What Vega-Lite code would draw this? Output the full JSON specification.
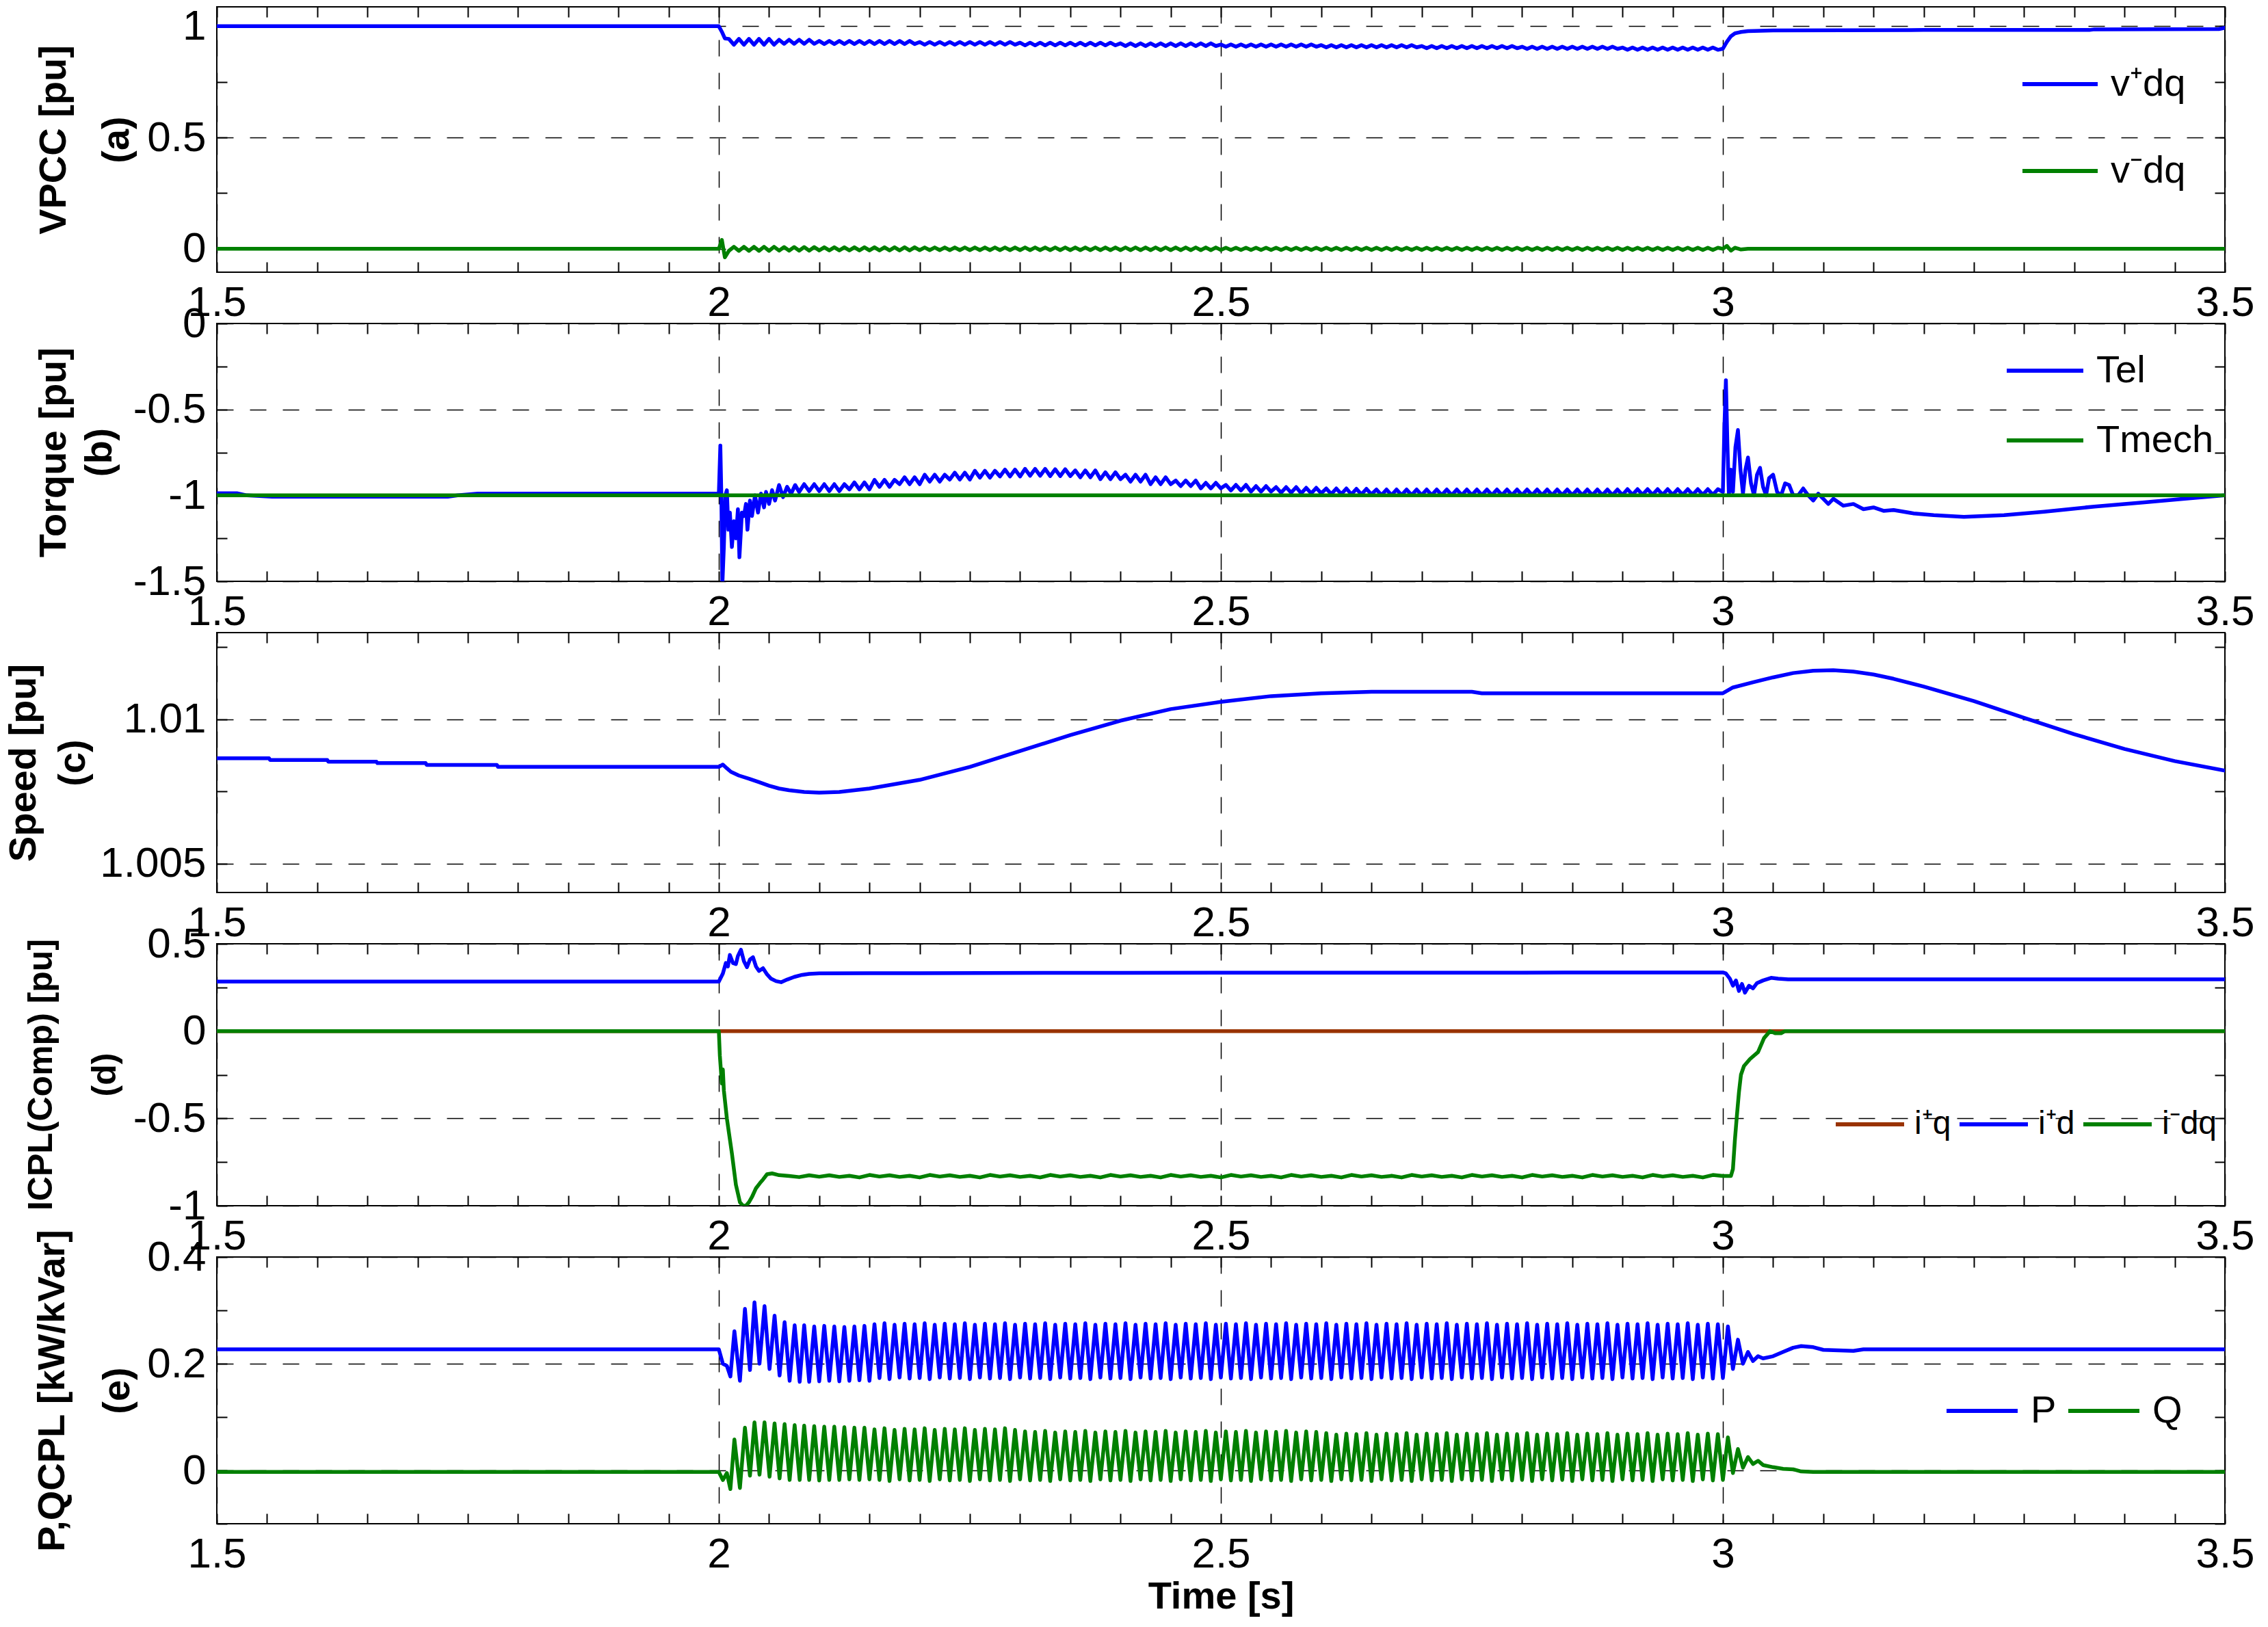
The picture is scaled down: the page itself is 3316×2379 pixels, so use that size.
{
"$schema": "https://vega.github.io/schema/vega-lite/v6.json",
"background": "white",
"padding": {"left": 5, "top": 6, "right": 10, "bottom": 10},
"config": {
 "view": {"stroke": "black", "strokeWidth": 2},
 "axis": {"domain": false, "labelFont": "Liberation Sans", "labelFontSize": 62, "labelColor": "black", "labelFlush": false, "labelOverlap": false, "labelBound": false, "titleFont": "Liberation Sans", "titleFontSize": 56, "titleFontWeight": "bold", "titleColor": "black", "gridColor": "black", "gridDash": [24, 24], "gridWidth": 1.5, "gridOpacity": 1, "tickColor": "black", "tickWidth": 2},
 "legend": {"orient": "none", "symbolType": "stroke", "symbolStrokeWidth": 6, "labelFont": "Liberation Sans", "labelFontSize": 56, "labelColor": "black", "labelOffset": 16, "padding": 0, "rowPadding": 17, "columnPadding": 20, "labelLimit": 0}
},
"datasets": {
"A": [
{"t":1.5,"vp":1,"vn":0},{"t":2,"vp":1,"vn":0},{"t":2.003,"vp":0.975,"vn":0.04},{"t":2.006,"vp":0.945,"vn":-0.038},
{"t":2.01,"vp":0.943,"vn":-0.009},{"t":2.015,"vp":0.917,"vn":0.009},{"t":2.02,"vp":0.943,"vn":-0.009},{"t":2.025,"vp":0.917,"vn":0.009},{"t":2.03,"vp":0.943,"vn":-0.009},{"t":2.035,"vp":0.917,"vn":0.009},{"t":2.04,"vp":0.943,"vn":-0.009},{"t":2.045,"vp":0.917,"vn":0.009},{"t":2.05,"vp":0.943,"vn":-0.009},{"t":2.055,"vp":0.917,"vn":0.009},
{"t":2.06,"vp":0.939,"vn":-0.008},{"t":2.065,"vp":0.921,"vn":0.008},{"t":2.07,"vp":0.939,"vn":-0.008},{"t":2.075,"vp":0.921,"vn":0.008},{"t":2.08,"vp":0.939,"vn":-0.008},{"t":2.085,"vp":0.921,"vn":0.008},{"t":2.09,"vp":0.939,"vn":-0.008},{"t":2.095,"vp":0.921,"vn":0.008},
{"t":2.1,"vp":0.934,"vn":-0.007},{"t":2.105,"vp":0.92,"vn":0.007},{"t":2.11,"vp":0.934,"vn":-0.007},{"t":2.115,"vp":0.92,"vn":0.007},{"t":2.12,"vp":0.934,"vn":-0.007},{"t":2.125,"vp":0.92,"vn":0.007},{"t":2.13,"vp":0.934,"vn":-0.007},{"t":2.135,"vp":0.92,"vn":0.007},{"t":2.14,"vp":0.934,"vn":-0.007},{"t":2.145,"vp":0.92,"vn":0.007},{"t":2.15,"vp":0.934,"vn":-0.007},{"t":2.155,"vp":0.92,"vn":0.007},{"t":2.16,"vp":0.934,"vn":-0.007},{"t":2.165,"vp":0.92,"vn":0.007},{"t":2.17,"vp":0.934,"vn":-0.007},{"t":2.175,"vp":0.92,"vn":0.007},{"t":2.18,"vp":0.934,"vn":-0.007},{"t":2.185,"vp":0.92,"vn":0.007},{"t":2.19,"vp":0.934,"vn":-0.007},{"t":2.195,"vp":0.92,"vn":0.007},
{"t":2.2,"vp":0.929,"vn":-0.006},{"t":2.205,"vp":0.917,"vn":0.006},{"t":2.21,"vp":0.929,"vn":-0.006},{"t":2.215,"vp":0.917,"vn":0.006},{"t":2.22,"vp":0.929,"vn":-0.006},{"t":2.225,"vp":0.917,"vn":0.006},{"t":2.23,"vp":0.929,"vn":-0.006},{"t":2.235,"vp":0.917,"vn":0.006},{"t":2.24,"vp":0.929,"vn":-0.006},{"t":2.245,"vp":0.917,"vn":0.006},{"t":2.25,"vp":0.929,"vn":-0.006},{"t":2.255,"vp":0.917,"vn":0.006},{"t":2.26,"vp":0.929,"vn":-0.006},{"t":2.265,"vp":0.917,"vn":0.006},{"t":2.27,"vp":0.929,"vn":-0.006},{"t":2.275,"vp":0.917,"vn":0.006},{"t":2.28,"vp":0.929,"vn":-0.006},{"t":2.285,"vp":0.917,"vn":0.006},{"t":2.29,"vp":0.929,"vn":-0.006},{"t":2.295,"vp":0.917,"vn":0.006},
{"t":2.3,"vp":0.926,"vn":-0.006},{"t":2.305,"vp":0.914,"vn":0.006},{"t":2.31,"vp":0.926,"vn":-0.006},{"t":2.315,"vp":0.914,"vn":0.006},{"t":2.32,"vp":0.926,"vn":-0.006},{"t":2.325,"vp":0.914,"vn":0.006},{"t":2.33,"vp":0.926,"vn":-0.006},{"t":2.335,"vp":0.914,"vn":0.006},{"t":2.34,"vp":0.926,"vn":-0.006},{"t":2.345,"vp":0.914,"vn":0.006},{"t":2.35,"vp":0.926,"vn":-0.006},{"t":2.355,"vp":0.914,"vn":0.006},{"t":2.36,"vp":0.926,"vn":-0.006},{"t":2.365,"vp":0.914,"vn":0.006},{"t":2.37,"vp":0.926,"vn":-0.006},{"t":2.375,"vp":0.914,"vn":0.006},{"t":2.38,"vp":0.926,"vn":-0.006},{"t":2.385,"vp":0.914,"vn":0.006},{"t":2.39,"vp":0.926,"vn":-0.006},{"t":2.395,"vp":0.914,"vn":0.006},
{"t":2.4,"vp":0.923,"vn":-0.006},{"t":2.405,"vp":0.911,"vn":0.006},{"t":2.41,"vp":0.923,"vn":-0.006},{"t":2.415,"vp":0.911,"vn":0.006},{"t":2.42,"vp":0.923,"vn":-0.006},{"t":2.425,"vp":0.911,"vn":0.006},{"t":2.43,"vp":0.923,"vn":-0.006},{"t":2.435,"vp":0.911,"vn":0.006},{"t":2.44,"vp":0.923,"vn":-0.006},{"t":2.445,"vp":0.911,"vn":0.006},{"t":2.45,"vp":0.923,"vn":-0.006},{"t":2.455,"vp":0.911,"vn":0.006},{"t":2.46,"vp":0.923,"vn":-0.006},{"t":2.465,"vp":0.911,"vn":0.006},{"t":2.47,"vp":0.923,"vn":-0.006},{"t":2.475,"vp":0.911,"vn":0.006},{"t":2.48,"vp":0.923,"vn":-0.006},{"t":2.485,"vp":0.911,"vn":0.006},{"t":2.49,"vp":0.923,"vn":-0.006},{"t":2.495,"vp":0.911,"vn":0.006},
{"t":2.5,"vp":0.918,"vn":-0.005},{"t":2.505,"vp":0.908,"vn":0.005},{"t":2.51,"vp":0.918,"vn":-0.005},{"t":2.515,"vp":0.908,"vn":0.005},{"t":2.52,"vp":0.918,"vn":-0.005},{"t":2.525,"vp":0.908,"vn":0.005},{"t":2.53,"vp":0.918,"vn":-0.005},{"t":2.535,"vp":0.908,"vn":0.005},{"t":2.54,"vp":0.918,"vn":-0.005},{"t":2.545,"vp":0.908,"vn":0.005},{"t":2.55,"vp":0.918,"vn":-0.005},{"t":2.555,"vp":0.908,"vn":0.005},{"t":2.56,"vp":0.918,"vn":-0.005},{"t":2.565,"vp":0.908,"vn":0.005},{"t":2.57,"vp":0.918,"vn":-0.005},{"t":2.575,"vp":0.908,"vn":0.005},{"t":2.58,"vp":0.918,"vn":-0.005},{"t":2.585,"vp":0.908,"vn":0.005},{"t":2.59,"vp":0.918,"vn":-0.005},{"t":2.595,"vp":0.908,"vn":0.005},
{"t":2.6,"vp":0.915,"vn":-0.005},{"t":2.605,"vp":0.905,"vn":0.005},{"t":2.61,"vp":0.915,"vn":-0.005},{"t":2.615,"vp":0.905,"vn":0.005},{"t":2.62,"vp":0.915,"vn":-0.005},{"t":2.625,"vp":0.905,"vn":0.005},{"t":2.63,"vp":0.915,"vn":-0.005},{"t":2.635,"vp":0.905,"vn":0.005},{"t":2.64,"vp":0.915,"vn":-0.005},{"t":2.645,"vp":0.905,"vn":0.005},{"t":2.65,"vp":0.915,"vn":-0.005},{"t":2.655,"vp":0.905,"vn":0.005},{"t":2.66,"vp":0.915,"vn":-0.005},{"t":2.665,"vp":0.905,"vn":0.005},{"t":2.67,"vp":0.915,"vn":-0.005},{"t":2.675,"vp":0.905,"vn":0.005},{"t":2.68,"vp":0.915,"vn":-0.005},{"t":2.685,"vp":0.905,"vn":0.005},{"t":2.69,"vp":0.915,"vn":-0.005},{"t":2.695,"vp":0.905,"vn":0.005},
{"t":2.7,"vp":0.911,"vn":-0.005},{"t":2.705,"vp":0.901,"vn":0.005},{"t":2.71,"vp":0.911,"vn":-0.005},{"t":2.715,"vp":0.901,"vn":0.005},{"t":2.72,"vp":0.911,"vn":-0.005},{"t":2.725,"vp":0.901,"vn":0.005},{"t":2.73,"vp":0.911,"vn":-0.005},{"t":2.735,"vp":0.901,"vn":0.005},{"t":2.74,"vp":0.911,"vn":-0.005},{"t":2.745,"vp":0.901,"vn":0.005},{"t":2.75,"vp":0.911,"vn":-0.005},{"t":2.755,"vp":0.901,"vn":0.005},{"t":2.76,"vp":0.911,"vn":-0.005},{"t":2.765,"vp":0.901,"vn":0.005},{"t":2.77,"vp":0.911,"vn":-0.005},{"t":2.775,"vp":0.901,"vn":0.005},{"t":2.78,"vp":0.911,"vn":-0.005},{"t":2.785,"vp":0.901,"vn":0.005},{"t":2.79,"vp":0.911,"vn":-0.005},{"t":2.795,"vp":0.901,"vn":0.005},
{"t":2.8,"vp":0.908,"vn":-0.005},{"t":2.805,"vp":0.898,"vn":0.005},{"t":2.81,"vp":0.908,"vn":-0.005},{"t":2.815,"vp":0.898,"vn":0.005},{"t":2.82,"vp":0.908,"vn":-0.005},{"t":2.825,"vp":0.898,"vn":0.005},{"t":2.83,"vp":0.908,"vn":-0.005},{"t":2.835,"vp":0.898,"vn":0.005},{"t":2.84,"vp":0.908,"vn":-0.005},{"t":2.845,"vp":0.898,"vn":0.005},{"t":2.85,"vp":0.908,"vn":-0.005},{"t":2.855,"vp":0.898,"vn":0.005},{"t":2.86,"vp":0.908,"vn":-0.005},{"t":2.865,"vp":0.898,"vn":0.005},{"t":2.87,"vp":0.908,"vn":-0.005},{"t":2.875,"vp":0.898,"vn":0.005},{"t":2.88,"vp":0.908,"vn":-0.005},{"t":2.885,"vp":0.898,"vn":0.005},{"t":2.89,"vp":0.908,"vn":-0.005},{"t":2.895,"vp":0.898,"vn":0.005},
{"t":2.9,"vp":0.904,"vn":-0.005},{"t":2.905,"vp":0.894,"vn":0.005},{"t":2.91,"vp":0.904,"vn":-0.005},{"t":2.915,"vp":0.894,"vn":0.005},{"t":2.92,"vp":0.904,"vn":-0.005},{"t":2.925,"vp":0.894,"vn":0.005},{"t":2.93,"vp":0.904,"vn":-0.005},{"t":2.935,"vp":0.894,"vn":0.005},{"t":2.94,"vp":0.904,"vn":-0.005},{"t":2.945,"vp":0.894,"vn":0.005},{"t":2.95,"vp":0.904,"vn":-0.005},{"t":2.955,"vp":0.894,"vn":0.005},{"t":2.96,"vp":0.904,"vn":-0.005},{"t":2.965,"vp":0.894,"vn":0.005},{"t":2.97,"vp":0.904,"vn":-0.005},{"t":2.975,"vp":0.894,"vn":0.005},{"t":2.98,"vp":0.904,"vn":-0.005},{"t":2.985,"vp":0.894,"vn":0.005},{"t":2.99,"vp":0.904,"vn":-0.005},{"t":2.995,"vp":0.894,"vn":0.005},
{"t":3,"vp":0.899,"vn":0},{"t":3.004,"vp":0.93,"vn":0.013},{"t":3.008,"vp":0.955,"vn":-0.008},{"t":3.012,"vp":0.968,"vn":0.005},{"t":3.018,"vp":0.974,"vn":-0.003},{"t":3.025,"vp":0.978,"vn":0},{"t":3.05,"vp":0.981,"vn":0},{"t":3.2,"vp":0.983,"vn":0},{"t":3.365,"vp":0.983,"vn":0},{"t":3.37,"vp":0.986,"vn":0},{"t":3.494,"vp":0.987,"vn":0},{"t":3.5,"vp":0.993,"vn":0}
],
"B": [
{"t":1.5,"Te":-0.988,"Tm":-1},{"t":1.52,"Te":-0.988},{"t":1.53,"Te":-1},{"t":1.555,"Te":-1.008},{"t":1.73,"Te":-1.008},{"t":1.74,"Te":-1},{"t":1.76,"Te":-0.99},{"t":2,"Te":-0.99},
{"t":2.0015,"Te":-0.71},{"t":2.0025,"Te":-1},{"t":2.0035,"Te":-1.52},{"t":2.005,"Te":-1.3},{"t":2.0065,"Te":-1},{"t":2.008,"Te":-0.97},{"t":2.0095,"Te":-1.2},{"t":2.011,"Te":-1.1},{"t":2.013,"Te":-1.3},{"t":2.015,"Te":-1.15},{"t":2.017,"Te":-1.25},{"t":2.019,"Te":-1.08},{"t":2.0205,"Te":-1.36},{"t":2.023,"Te":-1.1},{"t":2.025,"Te":-1.12},{"t":2.027,"Te":-1.05},{"t":2.0285,"Te":-1.2},{"t":2.031,"Te":-1.03},{"t":2.033,"Te":-1.12},{"t":2.036,"Te":-1},{"t":2.039,"Te":-1.1},{"t":2.042,"Te":-0.99},{"t":2.045,"Te":-1.07},{"t":2.047,"Te":-0.98},{"t":2.05,"Te":-1.05},{"t":2.053,"Te":-0.97},{"t":2.056,"Te":-1.03},{"t":2.06,"Te":-0.94},{"t":2.064,"Te":-1.01},{"t":2.068,"Te":-0.95},{"t":2.072,"Te":-0.99},{"t":2.076,"Te":-0.94},{"t":2.08,"Te":-0.98},{"t":2.085,"Te":-0.935},{"t":2.09,"Te":-0.975},{"t":2.095,"Te":-0.935},{"t":2.1,"Te":-0.975},
{"t":2.105,"Te":-0.935},{"t":2.11,"Te":-0.975},{"t":2.115,"Te":-0.935},{"t":2.12,"Te":-0.975},{"t":2.125,"Te":-0.935},{"t":2.13,"Te":-0.965},{"t":2.135,"Te":-0.925},{"t":2.14,"Te":-0.965},{"t":2.145,"Te":-0.925},{"t":2.15,"Te":-0.965},
{"t":2.155,"Te":-0.91},{"t":2.16,"Te":-0.95},{"t":2.165,"Te":-0.91},{"t":2.17,"Te":-0.95},{"t":2.175,"Te":-0.91},{"t":2.18,"Te":-0.935},{"t":2.185,"Te":-0.895},{"t":2.19,"Te":-0.935},{"t":2.195,"Te":-0.895},{"t":2.2,"Te":-0.935},
{"t":2.205,"Te":-0.88},{"t":2.21,"Te":-0.92},{"t":2.215,"Te":-0.88},{"t":2.22,"Te":-0.92},{"t":2.225,"Te":-0.88},{"t":2.23,"Te":-0.908},{"t":2.235,"Te":-0.868},{"t":2.24,"Te":-0.908},{"t":2.245,"Te":-0.868},{"t":2.25,"Te":-0.908},
{"t":2.255,"Te":-0.857},{"t":2.26,"Te":-0.897},{"t":2.265,"Te":-0.857},{"t":2.27,"Te":-0.897},{"t":2.275,"Te":-0.857},{"t":2.28,"Te":-0.89},{"t":2.285,"Te":-0.85},{"t":2.29,"Te":-0.89},{"t":2.295,"Te":-0.85},{"t":2.3,"Te":-0.89},
{"t":2.305,"Te":-0.846},{"t":2.31,"Te":-0.886},{"t":2.315,"Te":-0.846},{"t":2.32,"Te":-0.886},{"t":2.325,"Te":-0.846},{"t":2.33,"Te":-0.888},{"t":2.335,"Te":-0.848},{"t":2.34,"Te":-0.888},{"t":2.345,"Te":-0.848},{"t":2.35,"Te":-0.888},
{"t":2.355,"Te":-0.855},{"t":2.36,"Te":-0.895},{"t":2.365,"Te":-0.855},{"t":2.37,"Te":-0.895},{"t":2.375,"Te":-0.855},{"t":2.38,"Te":-0.906},{"t":2.385,"Te":-0.866},{"t":2.39,"Te":-0.906},{"t":2.395,"Te":-0.866},{"t":2.4,"Te":-0.906},
{"t":2.405,"Te":-0.88},{"t":2.41,"Te":-0.92},{"t":2.415,"Te":-0.88},{"t":2.42,"Te":-0.92},{"t":2.425,"Te":-0.88},{"t":2.43,"Te":-0.935},{"t":2.435,"Te":-0.895},{"t":2.44,"Te":-0.935},{"t":2.445,"Te":-0.895},{"t":2.45,"Te":-0.935},
{"t":2.455,"Te":-0.914},{"t":2.46,"Te":-0.946},{"t":2.465,"Te":-0.914},{"t":2.47,"Te":-0.946},{"t":2.475,"Te":-0.914},{"t":2.48,"Te":-0.959},{"t":2.485,"Te":-0.927},{"t":2.49,"Te":-0.959},{"t":2.495,"Te":-0.927},{"t":2.5,"Te":-0.959},
{"t":2.505,"Te":-0.939},{"t":2.51,"Te":-0.971},{"t":2.515,"Te":-0.939},{"t":2.52,"Te":-0.971},{"t":2.525,"Te":-0.939},{"t":2.53,"Te":-0.978},{"t":2.535,"Te":-0.946},{"t":2.54,"Te":-0.978},{"t":2.545,"Te":-0.946},{"t":2.55,"Te":-0.978},
{"t":2.555,"Te":-0.952},{"t":2.56,"Te":-0.984},{"t":2.565,"Te":-0.952},{"t":2.57,"Te":-0.984},{"t":2.575,"Te":-0.952},{"t":2.58,"Te":-0.988},{"t":2.585,"Te":-0.956},{"t":2.59,"Te":-0.988},{"t":2.595,"Te":-0.956},{"t":2.6,"Te":-0.988},
{"t":2.605,"Te":-0.96},{"t":2.61,"Te":-0.992},{"t":2.615,"Te":-0.96},{"t":2.62,"Te":-0.992},{"t":2.625,"Te":-0.96},{"t":2.63,"Te":-0.994},{"t":2.635,"Te":-0.962},{"t":2.64,"Te":-0.994},{"t":2.645,"Te":-0.962},{"t":2.65,"Te":-0.994},
{"t":2.655,"Te":-0.966},{"t":2.66,"Te":-0.998},{"t":2.665,"Te":-0.966},{"t":2.67,"Te":-0.998},{"t":2.675,"Te":-0.966},{"t":2.68,"Te":-0.998},{"t":2.685,"Te":-0.966},{"t":2.69,"Te":-0.998},{"t":2.695,"Te":-0.966},{"t":2.7,"Te":-0.998},
{"t":2.705,"Te":-0.966},{"t":2.71,"Te":-0.998},{"t":2.715,"Te":-0.966},{"t":2.72,"Te":-0.998},{"t":2.725,"Te":-0.966},{"t":2.73,"Te":-0.998},{"t":2.735,"Te":-0.966},{"t":2.74,"Te":-0.998},{"t":2.745,"Te":-0.966},{"t":2.75,"Te":-0.998},
{"t":2.755,"Te":-0.966},{"t":2.76,"Te":-0.998},{"t":2.765,"Te":-0.966},{"t":2.77,"Te":-0.998},{"t":2.775,"Te":-0.966},{"t":2.78,"Te":-0.998},{"t":2.785,"Te":-0.966},{"t":2.79,"Te":-0.998},{"t":2.795,"Te":-0.966},{"t":2.8,"Te":-0.998},
{"t":2.805,"Te":-0.966},{"t":2.81,"Te":-0.998},{"t":2.815,"Te":-0.966},{"t":2.82,"Te":-0.998},{"t":2.825,"Te":-0.966},{"t":2.83,"Te":-0.998},{"t":2.835,"Te":-0.966},{"t":2.84,"Te":-0.998},{"t":2.845,"Te":-0.966},{"t":2.85,"Te":-0.998},
{"t":2.855,"Te":-0.966},{"t":2.86,"Te":-0.998},{"t":2.865,"Te":-0.966},{"t":2.87,"Te":-0.998},{"t":2.875,"Te":-0.966},{"t":2.88,"Te":-0.998},{"t":2.885,"Te":-0.966},{"t":2.89,"Te":-0.998},{"t":2.895,"Te":-0.966},{"t":2.9,"Te":-0.998},
{"t":2.905,"Te":-0.964},{"t":2.91,"Te":-0.996},{"t":2.915,"Te":-0.964},{"t":2.92,"Te":-0.996},{"t":2.925,"Te":-0.964},{"t":2.93,"Te":-0.996},{"t":2.935,"Te":-0.964},{"t":2.94,"Te":-0.996},{"t":2.945,"Te":-0.964},{"t":2.95,"Te":-0.996},
{"t":2.955,"Te":-0.964},{"t":2.96,"Te":-0.996},{"t":2.965,"Te":-0.964},{"t":2.97,"Te":-0.996},{"t":2.975,"Te":-0.964},{"t":2.98,"Te":-0.996},{"t":2.985,"Te":-0.964},{"t":2.99,"Te":-0.996},{"t":2.995,"Te":-0.964},{"t":3,"Te":-0.98},
{"t":3.0015,"Te":-0.6},{"t":3.003,"Te":-0.33},{"t":3.0045,"Te":-0.7},{"t":3.006,"Te":-1},{"t":3.008,"Te":-0.85},{"t":3.01,"Te":-0.98},{"t":3.0125,"Te":-0.72},{"t":3.015,"Te":-0.62},{"t":3.0175,"Te":-0.85},{"t":3.02,"Te":-0.99},{"t":3.0225,"Te":-0.85},{"t":3.025,"Te":-0.78},{"t":3.028,"Te":-0.93},{"t":3.031,"Te":-1},{"t":3.034,"Te":-0.88},{"t":3.037,"Te":-0.84},{"t":3.04,"Te":-0.95},{"t":3.043,"Te":-1},{"t":3.046,"Te":-0.9},{"t":3.05,"Te":-0.88},{"t":3.054,"Te":-0.98},{"t":3.058,"Te":-1},{"t":3.062,"Te":-0.93},{"t":3.066,"Te":-0.94},{"t":3.07,"Te":-1},{"t":3.075,"Te":-1},{"t":3.08,"Te":-0.96},{"t":3.085,"Te":-1},{"t":3.09,"Te":-1.03},{"t":3.095,"Te":-0.99},{"t":3.1,"Te":-1.02},{"t":3.105,"Te":-1.05},{"t":3.11,"Te":-1.02},{"t":3.12,"Te":-1.06},{"t":3.13,"Te":-1.05},{"t":3.14,"Te":-1.08},{"t":3.15,"Te":-1.07},{"t":3.16,"Te":-1.09},{"t":3.17,"Te":-1.085},{"t":3.19,"Te":-1.105},{"t":3.21,"Te":-1.115},{"t":3.24,"Te":-1.125},{"t":3.28,"Te":-1.115},{"t":3.32,"Te":-1.095},{"t":3.37,"Te":-1.065},{"t":3.42,"Te":-1.04},{"t":3.46,"Te":-1.02},{"t":3.5,"Te":-1,"Tm":-1}
],
"C": [
{"t":1.5,"w":1.00865},{"t":1.552,"w":1.00865},{"t":1.553,"w":1.00859},{"t":1.61,"w":1.00859},{"t":1.611,"w":1.00853},{"t":1.659,"w":1.00853},{"t":1.66,"w":1.00848},{"t":1.708,"w":1.00848},{"t":1.709,"w":1.00842},{"t":1.779,"w":1.00842},{"t":1.78,"w":1.00835},{"t":2,"w":1.00835},{"t":2.004,"w":1.00843},{"t":2.008,"w":1.0083},{"t":2.012,"w":1.00818},{"t":2.02,"w":1.00805},{"t":2.03,"w":1.00794},{"t":2.04,"w":1.00782},{"t":2.05,"w":1.0077},{"t":2.06,"w":1.0076},{"t":2.07,"w":1.00754},{"t":2.085,"w":1.00748},{"t":2.1,"w":1.00746},{"t":2.12,"w":1.00748},{"t":2.15,"w":1.0076},{"t":2.2,"w":1.0079},{"t":2.25,"w":1.00835},{"t":2.3,"w":1.0089},{"t":2.35,"w":1.00945},{"t":2.4,"w":1.00995},{"t":2.45,"w":1.01035},{"t":2.5,"w":1.0106},{"t":2.55,"w":1.0108},{"t":2.6,"w":1.0109},{"t":2.65,"w":1.01095},{"t":2.75,"w":1.01095},{"t":2.76,"w":1.0109},{"t":3,"w":1.0109},{"t":3.01,"w":1.0111},{"t":3.03,"w":1.01128},{"t":3.05,"w":1.01145},{"t":3.07,"w":1.0116},{"t":3.09,"w":1.01168},{"t":3.11,"w":1.0117},{"t":3.13,"w":1.01165},{"t":3.15,"w":1.01155},{"t":3.17,"w":1.0114},{"t":3.2,"w":1.01113},{"t":3.25,"w":1.01063},{"t":3.3,"w":1.01005},{"t":3.35,"w":1.00948},{"t":3.4,"w":1.00897},{"t":3.45,"w":1.00855},{"t":3.5,"w":1.00822}
],
"D": [
{"t":1.5,"iq":0,"id":0.284,"idn":0},{"t":2,"id":0.284,"idn":0},{"t":2.001,"idn":-0.14},{"t":2.003,"idn":-0.3},{"t":2.004,"id":0.33,"idn":-0.22},{"t":2.005,"idn":-0.34},{"t":2.007,"id":0.39},{"t":2.008,"idn":-0.5},{"t":2.009,"id":0.37},{"t":2.011,"id":0.436},{"t":2.013,"idn":-0.7},{"t":2.014,"id":0.39},{"t":2.017,"id":0.384,"idn":-0.88},{"t":2.019,"id":0.43},{"t":2.021,"idn":-0.98},{"t":2.022,"id":0.466},{"t":2.024,"idn":-1},{"t":2.025,"id":0.4},{"t":2.027,"idn":-1},{"t":2.028,"id":0.366},{"t":2.03,"idn":-0.98},{"t":2.031,"id":0.41},{"t":2.033,"idn":-0.95},{"t":2.034,"id":0.423},{"t":2.037,"id":0.37,"idn":-0.9},{"t":2.04,"id":0.345},{"t":2.041,"idn":-0.87},{"t":2.044,"id":0.36,"idn":-0.85},{"t":2.048,"id":0.325,"idn":-0.82},{"t":2.052,"id":0.3},{"t":2.053,"idn":-0.815},{"t":2.057,"id":0.286},{"t":2.06,"idn":-0.825},{"t":2.062,"id":0.28},{"t":2.068,"id":0.295},{"t":2.07,"idn":-0.83},{"t":2.075,"id":0.31},{"t":2.08,"idn":-0.836},{"t":2.083,"id":0.322},{"t":2.09,"id":0.328,"idn":-0.826},{"t":2.1,"id":0.331,"idn":-0.834},
{"t":2.11,"idn":-0.826},{"t":2.12,"idn":-0.835},{"t":2.13,"idn":-0.829},{"t":2.14,"idn":-0.838},{"t":2.15,"idn":-0.824},{"t":2.16,"idn":-0.833},{"t":2.17,"idn":-0.826},{"t":2.18,"idn":-0.835},{"t":2.19,"idn":-0.829},{"t":2.2,"id":0.332,"idn":-0.838},{"t":2.21,"idn":-0.824},{"t":2.22,"idn":-0.833},{"t":2.23,"idn":-0.826},{"t":2.24,"idn":-0.835},{"t":2.25,"idn":-0.829},{"t":2.26,"idn":-0.838},{"t":2.27,"idn":-0.824},{"t":2.28,"idn":-0.833},{"t":2.29,"idn":-0.826},{"t":2.3,"idn":-0.835},{"t":2.31,"idn":-0.829},{"t":2.32,"idn":-0.838},{"t":2.33,"idn":-0.824},{"t":2.34,"idn":-0.833},{"t":2.35,"idn":-0.826},{"t":2.36,"idn":-0.835},{"t":2.37,"idn":-0.829},{"t":2.38,"idn":-0.838},{"t":2.39,"idn":-0.824},{"t":2.4,"id":0.334,"idn":-0.833},{"t":2.41,"idn":-0.826},{"t":2.42,"idn":-0.835},{"t":2.43,"idn":-0.829},{"t":2.44,"idn":-0.838},{"t":2.45,"idn":-0.824},{"t":2.46,"idn":-0.833},{"t":2.47,"idn":-0.826},{"t":2.48,"idn":-0.835},{"t":2.49,"idn":-0.829},{"t":2.5,"idn":-0.838},{"t":2.51,"idn":-0.824},{"t":2.52,"idn":-0.833},{"t":2.53,"idn":-0.826},{"t":2.54,"idn":-0.835},{"t":2.55,"idn":-0.829},{"t":2.56,"idn":-0.838},{"t":2.57,"idn":-0.824},{"t":2.58,"idn":-0.833},{"t":2.59,"idn":-0.826},{"t":2.6,"id":0.335,"idn":-0.835},{"t":2.61,"idn":-0.829},{"t":2.62,"idn":-0.838},{"t":2.63,"idn":-0.824},{"t":2.64,"idn":-0.833},{"t":2.65,"idn":-0.826},{"t":2.66,"idn":-0.835},{"t":2.67,"idn":-0.829},{"t":2.68,"idn":-0.838},{"t":2.69,"idn":-0.824},{"t":2.7,"idn":-0.833},{"t":2.71,"idn":-0.826},{"t":2.72,"idn":-0.835},{"t":2.73,"idn":-0.829},{"t":2.74,"idn":-0.838},{"t":2.75,"idn":-0.824},{"t":2.76,"idn":-0.833},{"t":2.77,"idn":-0.826},{"t":2.78,"idn":-0.835},{"t":2.79,"idn":-0.829},{"t":2.8,"id":0.335,"idn":-0.838},{"t":2.81,"idn":-0.824},{"t":2.82,"idn":-0.833},{"t":2.83,"idn":-0.826},{"t":2.84,"idn":-0.835},{"t":2.85,"idn":-0.829},{"t":2.86,"idn":-0.838},{"t":2.87,"idn":-0.824},{"t":2.88,"idn":-0.833},{"t":2.89,"idn":-0.826},{"t":2.9,"idn":-0.835},{"t":2.91,"idn":-0.829},{"t":2.92,"idn":-0.838},{"t":2.93,"idn":-0.824},{"t":2.94,"idn":-0.833},{"t":2.95,"idn":-0.826},{"t":2.96,"idn":-0.835},{"t":2.97,"idn":-0.829},{"t":2.98,"idn":-0.838},{"t":2.99,"idn":-0.824},
{"t":3,"id":0.336,"idn":-0.83},{"t":3.003,"id":0.33},{"t":3.007,"id":0.3},{"t":3.008,"idn":-0.83},{"t":3.01,"id":0.26,"idn":-0.79},{"t":3.012,"idn":-0.62},{"t":3.013,"id":0.29},{"t":3.014,"idn":-0.48},{"t":3.016,"id":0.23,"idn":-0.35},{"t":3.018,"idn":-0.25},{"t":3.019,"id":0.27},{"t":3.021,"idn":-0.2},{"t":3.022,"id":0.22},{"t":3.026,"id":0.26},{"t":3.027,"idn":-0.16},{"t":3.03,"id":0.245},{"t":3.034,"id":0.275},{"t":3.035,"idn":-0.12},{"t":3.038,"idn":-0.08},{"t":3.04,"id":0.29},{"t":3.041,"idn":-0.04},{"t":3.047,"idn":0},{"t":3.048,"id":0.305},{"t":3.052,"idn":-0.012},{"t":3.055,"id":0.3},{"t":3.058,"idn":-0.012},{"t":3.062,"idn":0},{"t":3.065,"id":0.296},{"t":3.5,"iq":0,"id":0.296,"idn":0}
],
"E": [
{"t":1.5,"P":0.227,"Q":-0.003},{"t":2,"P":0.227,"Q":-0.003},{"t":2.004,"P":0.2,"Q":-0.018},{"t":2.008,"P":0.196,"Q":-0.005},{"t":2.0115,"P":0.176,"Q":-0.035},{"t":2.0155,"P":0.261,"Q":0.058},{"t":2.021,"P":0.168,"Q":-0.033},{"t":2.026,"P":0.303,"Q":0.08},{"t":2.031,"P":0.188,"Q":-0.01},{"t":2.0355,"P":0.315,"Q":0.09},{"t":2.0405,"P":0.2,"Q":-0.008},{"t":2.0455,"P":0.308,"Q":0.09},{"t":2.0505,"P":0.19,"Q":-0.012},{"t":2.0555,"P":0.29,"Q":0.088},{"t":2.0605,"P":0.178,"Q":-0.015},{"t":2.0655,"P":0.278,"Q":0.087},{"t":2.0705,"P":0.168,"Q":-0.018},{"t":2.0755,"P":0.272,"Q":0.085},{"t":2.0805,"P":0.166,"Q":-0.018},
{"t":2.085,"P":0.272,"Q":0.084},{"t":2.09,"P":0.166,"Q":-0.018},{"t":2.095,"P":0.27,"Q":0.083},{"t":2.1,"P":0.167,"Q":-0.019},{"t":2.105,"P":0.271,"Q":0.082},{"t":2.11,"P":0.168,"Q":-0.018},{"t":2.115,"P":0.27,"Q":0.082},{"t":2.12,"P":0.167,"Q":-0.018},{"t":2.125,"P":0.269,"Q":0.081},{"t":2.13,"P":0.168,"Q":-0.017},{"t":2.135,"P":0.27,"Q":0.08},{"t":2.14,"P":0.169,"Q":-0.018},{"t":2.145,"P":0.271,"Q":0.08},{"t":2.15,"P":0.168,"Q":-0.017},
{"t":2.155,"P":0.274,"Q":0.077},{"t":2.16,"P":0.173,"Q":-0.018},{"t":2.165,"P":0.276,"Q":0.079},{"t":2.17,"P":0.171,"Q":-0.02},{"t":2.175,"P":0.273,"Q":0.076},{"t":2.18,"P":0.174,"Q":-0.017},{"t":2.185,"P":0.275,"Q":0.078},{"t":2.19,"P":0.172,"Q":-0.019},
{"t":2.195,"P":0.274,"Q":0.077},{"t":2.2,"P":0.173,"Q":-0.018},{"t":2.205,"P":0.276,"Q":0.079},{"t":2.21,"P":0.171,"Q":-0.02},{"t":2.215,"P":0.273,"Q":0.076},{"t":2.22,"P":0.174,"Q":-0.017},{"t":2.225,"P":0.275,"Q":0.078},{"t":2.23,"P":0.172,"Q":-0.019},
{"t":2.235,"P":0.274,"Q":0.077},{"t":2.24,"P":0.173,"Q":-0.018},{"t":2.245,"P":0.276,"Q":0.079},{"t":2.25,"P":0.171,"Q":-0.02},{"t":2.255,"P":0.273,"Q":0.076},{"t":2.26,"P":0.174,"Q":-0.017},{"t":2.265,"P":0.275,"Q":0.078},{"t":2.27,"P":0.172,"Q":-0.019},
{"t":2.275,"P":0.274,"Q":0.077},{"t":2.28,"P":0.173,"Q":-0.018},{"t":2.285,"P":0.276,"Q":0.079},{"t":2.29,"P":0.171,"Q":-0.02},{"t":2.295,"P":0.273,"Q":0.076},{"t":2.3,"P":0.174,"Q":-0.017},{"t":2.305,"P":0.275,"Q":0.073},{"t":2.31,"P":0.172,"Q":-0.019},
{"t":2.315,"P":0.274,"Q":0.072},{"t":2.32,"P":0.173,"Q":-0.018},{"t":2.325,"P":0.276,"Q":0.074},{"t":2.33,"P":0.171,"Q":-0.02},{"t":2.335,"P":0.273,"Q":0.071},{"t":2.34,"P":0.174,"Q":-0.017},{"t":2.345,"P":0.275,"Q":0.073},{"t":2.35,"P":0.172,"Q":-0.019},
{"t":2.355,"P":0.274,"Q":0.072},{"t":2.36,"P":0.173,"Q":-0.018},{"t":2.365,"P":0.276,"Q":0.074},{"t":2.37,"P":0.171,"Q":-0.02},{"t":2.375,"P":0.273,"Q":0.071},{"t":2.38,"P":0.174,"Q":-0.017},{"t":2.385,"P":0.275,"Q":0.073},{"t":2.39,"P":0.172,"Q":-0.019},
{"t":2.395,"P":0.274,"Q":0.072},{"t":2.4,"P":0.173,"Q":-0.018},{"t":2.405,"P":0.276,"Q":0.074},{"t":2.41,"P":0.171,"Q":-0.02},{"t":2.415,"P":0.273,"Q":0.071},{"t":2.42,"P":0.174,"Q":-0.017},{"t":2.425,"P":0.275,"Q":0.073},{"t":2.43,"P":0.172,"Q":-0.019},
{"t":2.435,"P":0.274,"Q":0.072},{"t":2.44,"P":0.173,"Q":-0.018},{"t":2.445,"P":0.276,"Q":0.074},{"t":2.45,"P":0.171,"Q":-0.02},{"t":2.455,"P":0.273,"Q":0.071},{"t":2.46,"P":0.174,"Q":-0.017},{"t":2.465,"P":0.275,"Q":0.073},{"t":2.47,"P":0.172,"Q":-0.019},
{"t":2.475,"P":0.274,"Q":0.072},{"t":2.48,"P":0.173,"Q":-0.018},{"t":2.485,"P":0.276,"Q":0.074},{"t":2.49,"P":0.171,"Q":-0.02},{"t":2.495,"P":0.273,"Q":0.071},{"t":2.5,"P":0.174,"Q":-0.017},{"t":2.505,"P":0.275,"Q":0.073},{"t":2.51,"P":0.172,"Q":-0.019},
{"t":2.515,"P":0.274,"Q":0.072},{"t":2.52,"P":0.173,"Q":-0.018},{"t":2.525,"P":0.276,"Q":0.074},{"t":2.53,"P":0.171,"Q":-0.02},{"t":2.535,"P":0.273,"Q":0.071},{"t":2.54,"P":0.174,"Q":-0.017},{"t":2.545,"P":0.275,"Q":0.073},{"t":2.55,"P":0.172,"Q":-0.019},
{"t":2.555,"P":0.274,"Q":0.072},{"t":2.56,"P":0.173,"Q":-0.018},{"t":2.565,"P":0.276,"Q":0.074},{"t":2.57,"P":0.171,"Q":-0.02},{"t":2.575,"P":0.273,"Q":0.071},{"t":2.58,"P":0.174,"Q":-0.017},{"t":2.585,"P":0.275,"Q":0.073},{"t":2.59,"P":0.172,"Q":-0.019},
{"t":2.595,"P":0.274,"Q":0.072},{"t":2.6,"P":0.173,"Q":-0.018},{"t":2.605,"P":0.276,"Q":0.07},{"t":2.61,"P":0.171,"Q":-0.02},{"t":2.615,"P":0.273,"Q":0.067},{"t":2.62,"P":0.174,"Q":-0.017},{"t":2.625,"P":0.275,"Q":0.069},{"t":2.63,"P":0.172,"Q":-0.019},
{"t":2.635,"P":0.274,"Q":0.068},{"t":2.64,"P":0.173,"Q":-0.018},{"t":2.645,"P":0.276,"Q":0.07},{"t":2.65,"P":0.171,"Q":-0.02},{"t":2.655,"P":0.273,"Q":0.067},{"t":2.66,"P":0.174,"Q":-0.017},{"t":2.665,"P":0.275,"Q":0.069},{"t":2.67,"P":0.172,"Q":-0.019},
{"t":2.675,"P":0.274,"Q":0.068},{"t":2.68,"P":0.173,"Q":-0.018},{"t":2.685,"P":0.276,"Q":0.07},{"t":2.69,"P":0.171,"Q":-0.02},{"t":2.695,"P":0.273,"Q":0.067},{"t":2.7,"P":0.174,"Q":-0.017},{"t":2.705,"P":0.275,"Q":0.069},{"t":2.71,"P":0.172,"Q":-0.019},
{"t":2.715,"P":0.274,"Q":0.068},{"t":2.72,"P":0.173,"Q":-0.018},{"t":2.725,"P":0.276,"Q":0.07},{"t":2.73,"P":0.171,"Q":-0.02},{"t":2.735,"P":0.273,"Q":0.067},{"t":2.74,"P":0.174,"Q":-0.017},{"t":2.745,"P":0.275,"Q":0.069},{"t":2.75,"P":0.172,"Q":-0.019},
{"t":2.755,"P":0.274,"Q":0.068},{"t":2.76,"P":0.173,"Q":-0.018},{"t":2.765,"P":0.276,"Q":0.07},{"t":2.77,"P":0.171,"Q":-0.02},{"t":2.775,"P":0.273,"Q":0.067},{"t":2.78,"P":0.174,"Q":-0.017},{"t":2.785,"P":0.275,"Q":0.069},{"t":2.79,"P":0.172,"Q":-0.019},
{"t":2.795,"P":0.274,"Q":0.068},{"t":2.8,"P":0.173,"Q":-0.018},{"t":2.805,"P":0.276,"Q":0.07},{"t":2.81,"P":0.171,"Q":-0.02},{"t":2.815,"P":0.273,"Q":0.067},{"t":2.82,"P":0.174,"Q":-0.017},{"t":2.825,"P":0.275,"Q":0.069},{"t":2.83,"P":0.172,"Q":-0.019},
{"t":2.835,"P":0.274,"Q":0.068},{"t":2.84,"P":0.173,"Q":-0.018},{"t":2.845,"P":0.276,"Q":0.07},{"t":2.85,"P":0.171,"Q":-0.02},{"t":2.855,"P":0.273,"Q":0.067},{"t":2.86,"P":0.174,"Q":-0.017},{"t":2.865,"P":0.275,"Q":0.069},{"t":2.87,"P":0.172,"Q":-0.019},
{"t":2.875,"P":0.274,"Q":0.068},{"t":2.88,"P":0.173,"Q":-0.018},{"t":2.885,"P":0.276,"Q":0.07},{"t":2.89,"P":0.171,"Q":-0.02},{"t":2.895,"P":0.273,"Q":0.067},{"t":2.9,"P":0.174,"Q":-0.017},{"t":2.905,"P":0.275,"Q":0.069},{"t":2.91,"P":0.172,"Q":-0.019},
{"t":2.915,"P":0.274,"Q":0.068},{"t":2.92,"P":0.173,"Q":-0.018},{"t":2.925,"P":0.276,"Q":0.07},{"t":2.93,"P":0.171,"Q":-0.02},{"t":2.935,"P":0.273,"Q":0.067},{"t":2.94,"P":0.174,"Q":-0.017},{"t":2.945,"P":0.275,"Q":0.069},{"t":2.95,"P":0.172,"Q":-0.019},
{"t":2.955,"P":0.274,"Q":0.068},{"t":2.96,"P":0.173,"Q":-0.018},{"t":2.965,"P":0.276,"Q":0.07},{"t":2.97,"P":0.171,"Q":-0.02},{"t":2.975,"P":0.273,"Q":0.067},{"t":2.98,"P":0.174,"Q":-0.017},{"t":2.985,"P":0.275,"Q":0.069},{"t":2.99,"P":0.172,"Q":-0.019},
{"t":2.995,"P":0.274,"Q":0.068},{"t":3,"P":0.173,"Q":-0.018},
{"t":3.005,"P":0.27,"Q":0.062},{"t":3.01,"P":0.19,"Q":-0.005},{"t":3.015,"P":0.245,"Q":0.04},{"t":3.02,"P":0.2,"Q":0.005},{"t":3.025,"P":0.222,"Q":0.025},{"t":3.03,"P":0.205,"Q":0.012},{"t":3.035,"P":0.214,"Q":0.018},{"t":3.04,"P":0.21,"Q":0.01},{"t":3.05,"P":0.214,"Q":0.006},{"t":3.06,"P":0.222,"Q":0.003},{"t":3.07,"P":0.23,"Q":0.002},{"t":3.078,"P":0.233,"Q":-0.002},{"t":3.09,"P":0.231,"Q":-0.003},{"t":3.1,"P":0.226,"Q":-0.003},{"t":3.13,"P":0.224,"Q":-0.003},{"t":3.14,"P":0.227,"Q":-0.003},{"t":3.5,"P":0.227,"Q":-0.003}
]
},
"spacing": 75,
"bounds": "flush",
"resolve": {"scale": {"color": "independent", "x": "independent", "y": "independent"}, "legend": {"color": "independent"}},
"vconcat": [
{
 "width": 2936, "height": 388,
 "data": {"name": "A"},
 "transform": [{"fold": ["vp", "vn"], "as": ["s", "v"]}, {"filter": "isValid(datum.v)"}],
 "layer": [
  {"mark": {"type": "line", "strokeWidth": 5.5, "strokeJoin": "round", "strokeCap": "round", "clip": true},
   "encoding": {
    "x": {"field": "t", "type": "quantitative", "scale": {"domain": [1.5, 3.5], "nice": false, "zero": false}, "axis": {"values": [1.5, 2, 2.5, 3, 3.5], "grid": true, "ticks": false, "labelPadding": 14, "title": null, "labelExpr": "'' + datum.value"}},
    "y": {"field": "v", "type": "quantitative", "scale": {"domain": [-0.105, 1.087], "nice": false, "zero": false}, "axis": {"values": [0, 0.5, 1], "grid": true, "ticks": false, "labelPadding": 16, "labelExpr": "'' + datum.value", "title": ["VPCC [pu]", "(a)"], "titleAngle": 270, "titleAlign": "center", "titleBaseline": "middle", "titleX": -239, "titleY": 194, "titleLineHeight": 92}},
    "color": {"field": "s", "type": "nominal", "scale": {"domain": ["vp", "vn"], "range": ["#0000ff", "#008000"]}, "legend": {"title": null, "direction": "vertical", "legendX": 2637, "legendY": 55, "symbolSize": 12100, "rowPadding": 41, "labelExpr": "datum.label == 'vp' ? 'v⁺dq' : 'v⁻dq'"}}
   }},
  {"mark": {"type": "line", "strokeOpacity": 0},
   "encoding": {
    "x": {"field": "t", "type": "quantitative", "scale": {"domain": [1.5, 3.5], "nice": false, "zero": false}, "axis": {"orient": "bottom", "values": [1.5,1.55,1.6,1.65,1.7,1.75,1.8,1.85,1.9,1.95,2,2.05,2.1,2.15,2.2,2.25,2.3,2.35,2.4,2.45,2.5,2.55,2.6,2.65,2.7,2.75,2.8,2.85,2.9,2.95,3,3.05,3.1,3.15,3.2,3.25,3.3,3.35,3.4,3.45,3.5], "labels": false, "grid": false, "tickSize": -15, "title": null}},
    "y": {"field": "v", "type": "quantitative", "scale": {"domain": [-0.105, 1.087], "nice": false, "zero": false}, "axis": {"orient": "left", "values": [0, 0.25, 0.5, 0.75, 1], "labels": false, "grid": false, "tickSize": -15, "title": null}}
   }},
  {"mark": {"type": "line", "strokeOpacity": 0},
   "encoding": {
    "x": {"field": "t", "type": "quantitative", "scale": {"domain": [1.5, 3.5], "nice": false, "zero": false}, "axis": {"orient": "top", "values": [1.5,1.55,1.6,1.65,1.7,1.75,1.8,1.85,1.9,1.95,2,2.05,2.1,2.15,2.2,2.25,2.3,2.35,2.4,2.45,2.5,2.55,2.6,2.65,2.7,2.75,2.8,2.85,2.9,2.95,3,3.05,3.1,3.15,3.2,3.25,3.3,3.35,3.4,3.45,3.5], "labels": false, "grid": false, "tickSize": -15, "title": null}},
    "y": {"field": "v", "type": "quantitative", "scale": {"domain": [-0.105, 1.087], "nice": false, "zero": false}, "axis": {"orient": "right", "values": [0, 0.25, 0.5, 0.75, 1], "labels": false, "grid": false, "tickSize": -15, "title": null}}
   }}
 ],
 "resolve": {"axis": {"x": "independent", "y": "independent"}}
},
{
 "width": 2936, "height": 377,
 "data": {"name": "B"},
 "transform": [{"fold": ["Te", "Tm"], "as": ["s", "v"]}, {"filter": "isValid(datum.v)"}],
 "layer": [
  {"mark": {"type": "line", "strokeWidth": 5.5, "strokeJoin": "round", "strokeCap": "round", "clip": true},
   "encoding": {
    "x": {"field": "t", "type": "quantitative", "scale": {"domain": [1.5, 3.5], "nice": false, "zero": false}, "axis": {"values": [1.5, 2, 2.5, 3, 3.5], "grid": true, "ticks": false, "labelPadding": 14, "title": null, "labelExpr": "'' + datum.value"}},
    "y": {"field": "v", "type": "quantitative", "scale": {"domain": [-1.5, 0], "nice": false, "zero": false}, "axis": {"values": [-1.5, -1, -0.5, 0], "grid": true, "ticks": false, "labelPadding": 16, "labelExpr": "'' + datum.value", "title": ["Torque [pu]", "(b)"], "titleAngle": 270, "titleAlign": "center", "titleBaseline": "middle", "titleX": -239, "titleY": 188, "titleLineHeight": 67}},
    "color": {"field": "s", "type": "nominal", "scale": {"domain": ["Te", "Tm"], "range": ["#0000ff", "#008000"]}, "legend": {"title": null, "direction": "vertical", "legendX": 2614, "legendY": 10, "symbolSize": 12544, "rowPadding": 15, "labelExpr": "datum.label == 'Te' ? 'Tel' : 'Tmech'"}}
   }},
  {"mark": {"type": "line", "strokeOpacity": 0},
   "encoding": {
    "x": {"field": "t", "type": "quantitative", "scale": {"domain": [1.5, 3.5], "nice": false, "zero": false}, "axis": {"orient": "bottom", "values": [1.5,1.55,1.6,1.65,1.7,1.75,1.8,1.85,1.9,1.95,2,2.05,2.1,2.15,2.2,2.25,2.3,2.35,2.4,2.45,2.5,2.55,2.6,2.65,2.7,2.75,2.8,2.85,2.9,2.95,3,3.05,3.1,3.15,3.2,3.25,3.3,3.35,3.4,3.45,3.5], "labels": false, "grid": false, "tickSize": -15, "title": null}},
    "y": {"field": "v", "type": "quantitative", "scale": {"domain": [-1.5, 0], "nice": false, "zero": false}, "axis": {"orient": "left", "values": [-1.5, -1.25, -1, -0.75, -0.5, -0.25, 0], "labels": false, "grid": false, "tickSize": -15, "title": null}}
   }},
  {"mark": {"type": "line", "strokeOpacity": 0},
   "encoding": {
    "x": {"field": "t", "type": "quantitative", "scale": {"domain": [1.5, 3.5], "nice": false, "zero": false}, "axis": {"orient": "top", "values": [1.5,1.55,1.6,1.65,1.7,1.75,1.8,1.85,1.9,1.95,2,2.05,2.1,2.15,2.2,2.25,2.3,2.35,2.4,2.45,2.5,2.55,2.6,2.65,2.7,2.75,2.8,2.85,2.9,2.95,3,3.05,3.1,3.15,3.2,3.25,3.3,3.35,3.4,3.45,3.5], "labels": false, "grid": false, "tickSize": -15, "title": null}},
    "y": {"field": "v", "type": "quantitative", "scale": {"domain": [-1.5, 0], "nice": false, "zero": false}, "axis": {"orient": "right", "values": [-1.5, -1.25, -1, -0.75, -0.5, -0.25, 0], "labels": false, "grid": false, "tickSize": -15, "title": null}}
   }}
 ],
 "resolve": {"axis": {"x": "independent", "y": "independent"}}
},
{
 "width": 2936, "height": 380,
 "data": {"name": "C"},
 "layer": [
  {"mark": {"type": "line", "strokeWidth": 5.5, "strokeJoin": "round", "strokeCap": "round", "clip": true, "color": "#0000ff"},
   "encoding": {
    "x": {"field": "t", "type": "quantitative", "scale": {"domain": [1.5, 3.5], "nice": false, "zero": false}, "axis": {"values": [1.5, 2, 2.5, 3, 3.5], "grid": true, "ticks": false, "labelPadding": 14, "title": null, "labelExpr": "'' + datum.value"}},
    "y": {"field": "w", "type": "quantitative", "scale": {"domain": [1.004, 1.013], "nice": false, "zero": false}, "axis": {"values": [1.005, 1.01], "grid": true, "ticks": false, "labelPadding": 16, "labelExpr": "'' + datum.value", "title": ["Speed [pu]", "(c)"], "titleAngle": 270, "titleAlign": "center", "titleBaseline": "middle", "titleX": -283, "titleY": 190, "titleLineHeight": 72}}
   }},
  {"mark": {"type": "line", "strokeOpacity": 0},
   "encoding": {
    "x": {"field": "t", "type": "quantitative", "scale": {"domain": [1.5, 3.5], "nice": false, "zero": false}, "axis": {"orient": "bottom", "values": [1.5,1.55,1.6,1.65,1.7,1.75,1.8,1.85,1.9,1.95,2,2.05,2.1,2.15,2.2,2.25,2.3,2.35,2.4,2.45,2.5,2.55,2.6,2.65,2.7,2.75,2.8,2.85,2.9,2.95,3,3.05,3.1,3.15,3.2,3.25,3.3,3.35,3.4,3.45,3.5], "labels": false, "grid": false, "tickSize": -15, "title": null}},
    "y": {"field": "w", "type": "quantitative", "scale": {"domain": [1.004, 1.013], "nice": false, "zero": false}, "axis": {"orient": "left", "values": [1.005, 1.0075, 1.01, 1.0125], "labels": false, "grid": false, "tickSize": -15, "title": null}}
   }},
  {"mark": {"type": "line", "strokeOpacity": 0},
   "encoding": {
    "x": {"field": "t", "type": "quantitative", "scale": {"domain": [1.5, 3.5], "nice": false, "zero": false}, "axis": {"orient": "top", "values": [1.5,1.55,1.6,1.65,1.7,1.75,1.8,1.85,1.9,1.95,2,2.05,2.1,2.15,2.2,2.25,2.3,2.35,2.4,2.45,2.5,2.55,2.6,2.65,2.7,2.75,2.8,2.85,2.9,2.95,3,3.05,3.1,3.15,3.2,3.25,3.3,3.35,3.4,3.45,3.5], "labels": false, "grid": false, "tickSize": -15, "title": null}},
    "y": {"field": "w", "type": "quantitative", "scale": {"domain": [1.004, 1.013], "nice": false, "zero": false}, "axis": {"orient": "right", "values": [1.005, 1.0075, 1.01, 1.0125], "labels": false, "grid": false, "tickSize": -15, "title": null}}
   }}
 ],
 "resolve": {"axis": {"x": "independent", "y": "independent"}}
},
{
 "width": 2936, "height": 383,
 "data": {"name": "D"},
 "transform": [{"fold": ["iq", "id", "idn"], "as": ["s", "v"]}, {"filter": "isValid(datum.v)"}],
 "layer": [
  {"mark": {"type": "line", "strokeWidth": 5.5, "strokeJoin": "round", "strokeCap": "round", "clip": true},
   "encoding": {
    "x": {"field": "t", "type": "quantitative", "scale": {"domain": [1.5, 3.5], "nice": false, "zero": false}, "axis": {"values": [1.5, 2, 2.5, 3, 3.5], "grid": true, "ticks": false, "labelPadding": 14, "title": null, "labelExpr": "'' + datum.value"}},
    "y": {"field": "v", "type": "quantitative", "scale": {"domain": [-1, 0.5], "nice": false, "zero": false}, "axis": {"values": [-1, -0.5, 0, 0.5], "grid": true, "ticks": false, "labelPadding": 16, "labelExpr": "'' + datum.value", "title": ["ICPL(Comp) [pu]", "(d)"], "titleFontSize": 50, "titleAngle": 270, "titleAlign": "center", "titleBaseline": "middle", "titleX": -257, "titleY": 191, "titleLineHeight": 93}},
    "color": {"field": "s", "type": "nominal", "scale": {"domain": ["iq", "id", "idn"], "range": ["#993300", "#0000ff", "#008000"]}, "legend": {"title": null, "direction": "horizontal", "legendX": 2364, "legendY": 211, "symbolSize": 10000, "labelFontSize": 48, "labelOffset": 12, "columnPadding": 0, "labelExpr": "datum.label == 'iq' ? 'i⁺q' : datum.label == 'id' ? 'i⁺d' : 'i⁻dq'"}}
   }},
  {"mark": {"type": "line", "strokeOpacity": 0},
   "encoding": {
    "x": {"field": "t", "type": "quantitative", "scale": {"domain": [1.5, 3.5], "nice": false, "zero": false}, "axis": {"orient": "bottom", "values": [1.5,1.55,1.6,1.65,1.7,1.75,1.8,1.85,1.9,1.95,2,2.05,2.1,2.15,2.2,2.25,2.3,2.35,2.4,2.45,2.5,2.55,2.6,2.65,2.7,2.75,2.8,2.85,2.9,2.95,3,3.05,3.1,3.15,3.2,3.25,3.3,3.35,3.4,3.45,3.5], "labels": false, "grid": false, "tickSize": -15, "title": null}},
    "y": {"field": "v", "type": "quantitative", "scale": {"domain": [-1, 0.5], "nice": false, "zero": false}, "axis": {"orient": "left", "values": [-1, -0.75, -0.5, -0.25, 0, 0.25, 0.5], "labels": false, "grid": false, "tickSize": -15, "title": null}}
   }},
  {"mark": {"type": "line", "strokeOpacity": 0},
   "encoding": {
    "x": {"field": "t", "type": "quantitative", "scale": {"domain": [1.5, 3.5], "nice": false, "zero": false}, "axis": {"orient": "top", "values": [1.5,1.55,1.6,1.65,1.7,1.75,1.8,1.85,1.9,1.95,2,2.05,2.1,2.15,2.2,2.25,2.3,2.35,2.4,2.45,2.5,2.55,2.6,2.65,2.7,2.75,2.8,2.85,2.9,2.95,3,3.05,3.1,3.15,3.2,3.25,3.3,3.35,3.4,3.45,3.5], "labels": false, "grid": false, "tickSize": -15, "title": null}},
    "y": {"field": "v", "type": "quantitative", "scale": {"domain": [-1, 0.5], "nice": false, "zero": false}, "axis": {"orient": "right", "values": [-1, -0.75, -0.5, -0.25, 0, 0.25, 0.5], "labels": false, "grid": false, "tickSize": -15, "title": null}}
   }}
 ],
 "resolve": {"axis": {"x": "independent", "y": "independent"}}
},
{
 "width": 2936, "height": 390,
 "data": {"name": "E"},
 "transform": [{"fold": ["P", "Q"], "as": ["s", "v"]}, {"filter": "isValid(datum.v)"}],
 "layer": [
  {"mark": {"type": "line", "strokeWidth": 5.5, "strokeJoin": "round", "strokeCap": "round", "clip": true},
   "encoding": {
    "x": {"field": "t", "type": "quantitative", "scale": {"domain": [1.5, 3.5], "nice": false, "zero": false}, "axis": {"values": [1.5, 2, 2.5, 3, 3.5], "grid": true, "ticks": false, "labelPadding": 14, "title": "Time [s]", "titlePadding": 4, "labelExpr": "'' + datum.value"}},
    "y": {"field": "v", "type": "quantitative", "scale": {"domain": [-0.1, 0.4], "nice": false, "zero": false}, "axis": {"values": [0, 0.2, 0.4], "grid": true, "ticks": false, "labelPadding": 16, "labelExpr": "'' + datum.value", "title": ["P,QCPL [kW/kVar]", "(e)"], "titleAngle": 270, "titleAlign": "center", "titleBaseline": "middle", "titleX": -241, "titleY": 195, "titleLineHeight": 95}},
    "color": {"field": "s", "type": "nominal", "scale": {"domain": ["P", "Q"], "range": ["#0000ff", "#008000"]}, "legend": {"title": null, "direction": "horizontal", "legendX": 2526, "legendY": 170, "symbolSize": 10816, "columnPadding": 5}}
   }},
  {"mark": {"type": "line", "strokeOpacity": 0},
   "encoding": {
    "x": {"field": "t", "type": "quantitative", "scale": {"domain": [1.5, 3.5], "nice": false, "zero": false}, "axis": {"orient": "bottom", "values": [1.5,1.55,1.6,1.65,1.7,1.75,1.8,1.85,1.9,1.95,2,2.05,2.1,2.15,2.2,2.25,2.3,2.35,2.4,2.45,2.5,2.55,2.6,2.65,2.7,2.75,2.8,2.85,2.9,2.95,3,3.05,3.1,3.15,3.2,3.25,3.3,3.35,3.4,3.45,3.5], "labels": false, "grid": false, "tickSize": -15, "title": null}},
    "y": {"field": "v", "type": "quantitative", "scale": {"domain": [-0.1, 0.4], "nice": false, "zero": false}, "axis": {"orient": "left", "values": [-0.1, 0, 0.1, 0.2, 0.3, 0.4], "labels": false, "grid": false, "tickSize": -15, "title": null}}
   }},
  {"mark": {"type": "line", "strokeOpacity": 0},
   "encoding": {
    "x": {"field": "t", "type": "quantitative", "scale": {"domain": [1.5, 3.5], "nice": false, "zero": false}, "axis": {"orient": "top", "values": [1.5,1.55,1.6,1.65,1.7,1.75,1.8,1.85,1.9,1.95,2,2.05,2.1,2.15,2.2,2.25,2.3,2.35,2.4,2.45,2.5,2.55,2.6,2.65,2.7,2.75,2.8,2.85,2.9,2.95,3,3.05,3.1,3.15,3.2,3.25,3.3,3.35,3.4,3.45,3.5], "labels": false, "grid": false, "tickSize": -15, "title": null}},
    "y": {"field": "v", "type": "quantitative", "scale": {"domain": [-0.1, 0.4], "nice": false, "zero": false}, "axis": {"orient": "right", "values": [-0.1, 0, 0.1, 0.2, 0.3, 0.4], "labels": false, "grid": false, "tickSize": -15, "title": null}}
   }}
 ],
 "resolve": {"axis": {"x": "independent", "y": "independent"}}
}
]
}
